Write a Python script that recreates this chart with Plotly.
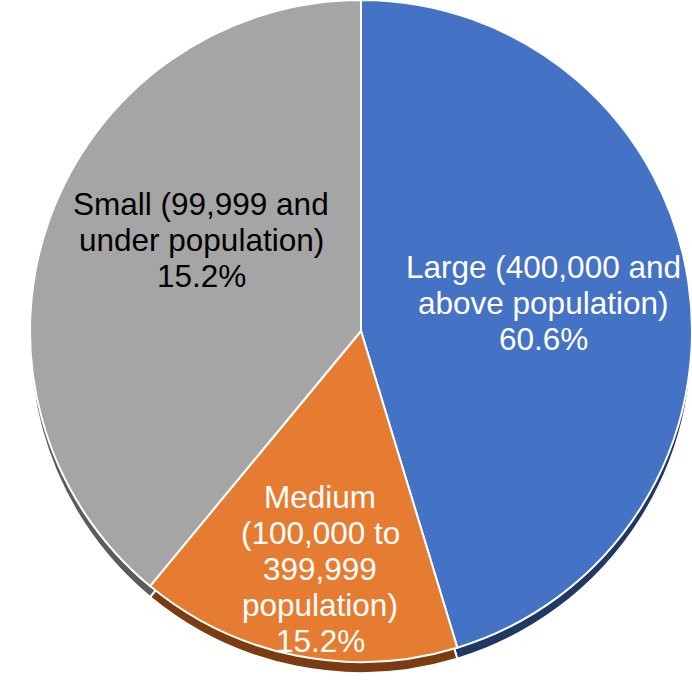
import plotly.graph_objects as go

# ---- data ----
categories = ["Large (400,000 and above population)",
              "Medium (100,000 to 399,999 population)",
              "Small (99,999 and under population)"]
slice_values = [45.3, 15.7, 39.0]          # visible slice sizes
shown_percent = ["60.6%", "15.2%", "15.2%"]  # percentages printed on the labels
label_lines = [
    ["Large (400,000 and", "above population)"],
    ["Medium", "(100,000 to", "399,999", "population)"],
    ["Small (99,999 and", "under population)"],
]

# ---- style ----
W, H = 692, 684
face_colors = ["#4472C4", "#E67C32", "#A5A5A5"]
rim_colors = ["#1F3864", "#7A3C10", "#5C5C5C"]
text_colors = ["#FFFFFF", "#FFFFFF", "#000000"]
FONT = "Liberation Sans, Arial, sans-serif"
FS = 31.5
label_cx = [543, 320, 201]        # px from left
label_base0 = [278, 508, 215]     # first baseline, px from top
LINE = 36

dom_x = [30 / W, 1.0]
dom_y = [22 / H, 1.0]
rim = 11
rim_y = [(22 - rim) / H, 1.0 - rim / H]

fig = go.Figure()
# 3D rim (behind)
fig.add_trace(go.Pie(
    labels=categories, values=slice_values, sort=False, direction="clockwise",
    rotation=0, textinfo="none", hoverinfo="skip",
    marker=dict(colors=rim_colors, line=dict(color="white", width=2)),
    domain=dict(x=dom_x, y=rim_y), showlegend=False))
# face
fig.add_trace(go.Pie(
    labels=categories, values=slice_values, sort=False, direction="clockwise",
    rotation=0, textinfo="none",
    customdata=shown_percent,
    hovertemplate="%{label}<br>%{customdata}<extra></extra>",
    marker=dict(colors=face_colors, line=dict(color="white", width=2)),
    domain=dict(x=dom_x, y=dom_y), showlegend=False))

annotations = []
for i, lines in enumerate(label_lines):
    all_lines = lines + [shown_percent[i]]
    for j, t in enumerate(all_lines):
        base = label_base0[i] + j * LINE
        ymid = base - 0.3465 * FS
        annotations.append(dict(
            text=t, x=label_cx[i] / W, y=1 - ymid / H, xref="paper", yref="paper",
            xanchor="center", yanchor="middle", showarrow=False,
            font=dict(family=FONT, size=FS, color=text_colors[i])))

fig.update_layout(
    width=W, height=H, margin=dict(l=0, r=0, t=0, b=0),
    paper_bgcolor="white", plot_bgcolor="white",
    annotations=annotations, showlegend=False)

fig.write_html("out.html")
